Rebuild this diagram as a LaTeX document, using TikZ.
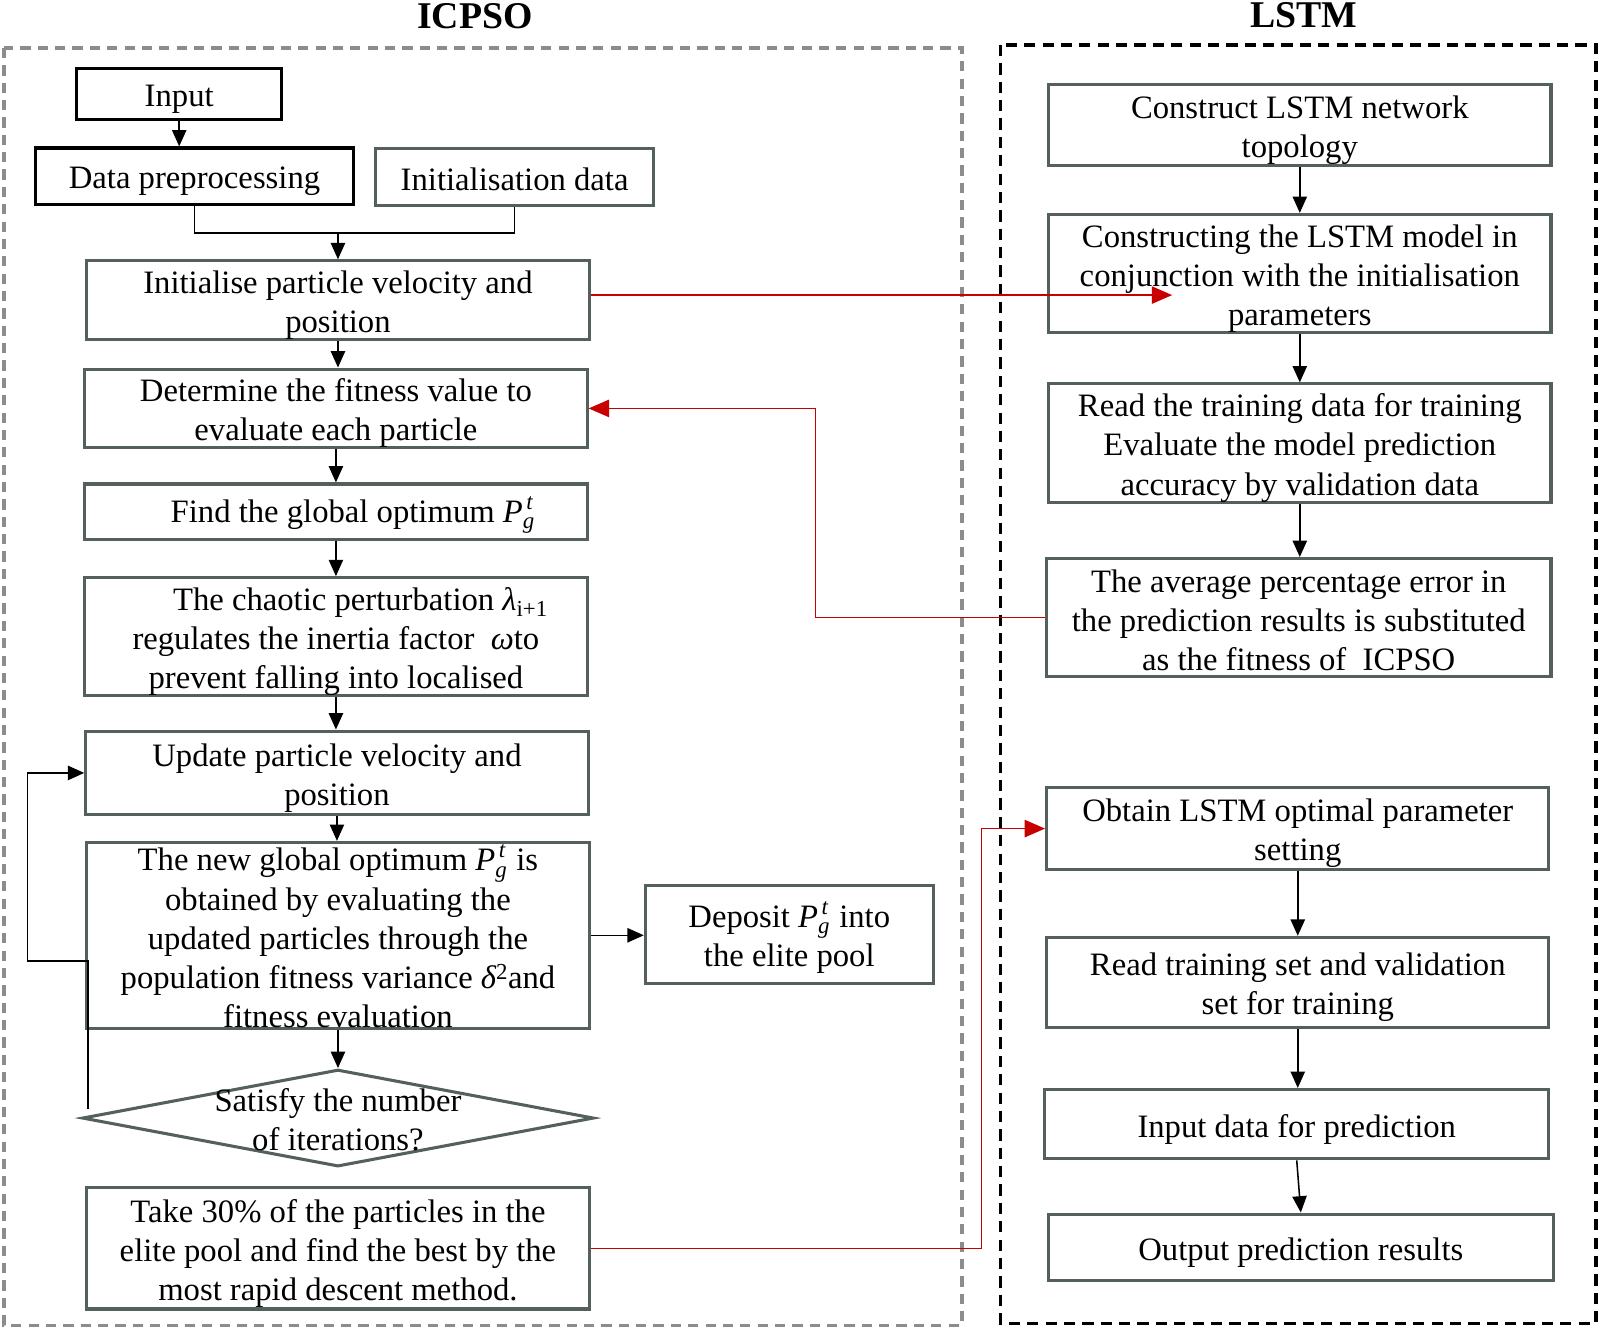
\documentclass[tikz,border=0pt]{standalone}
\usepackage{amsmath}
\usepackage{fontspec}
\setmainfont{Liberation Serif}
\usetikzlibrary{arrows.meta,shapes.geometric,calc}
\definecolor{boxc}{RGB}{84,96,94}
\definecolor{redc}{RGB}{200,0,0}
\definecolor{framec}{RGB}{140,140,140}
\newcommand{\Pgt}{$\textit{P}^{\,\textit{t}}_{\textit{g}}$\kern1pt}
\newcommand{\ts}{\rule{0pt}{32pt}}
\newcommand{\tss}{\rule{0pt}{27pt}}
\begin{document}
\begin{tikzpicture}[x=1pt,y=-1pt,
  every node/.style={font=\fontsize{32}{38.3}\selectfont},
  box/.style={draw=boxc, line width=3pt, rectangle, inner sep=0pt, align=center},
  bbox/.style={draw=black, line width=3.3pt, rectangle, inner sep=0pt, align=center},
  arr/.style={line width=1.5pt, -{Triangle[length=16pt,width=14pt]}},
  rarr/.style={draw=redc, line width=1.4pt, -{Triangle[length=20pt,width=17pt]}},
  ttl/.style={font=\fontsize{37}{40}\selectfont\bfseries}]
\useasboundingbox (0,0) rectangle (1568,1301);

% frames
\draw[framec, line width=3.5pt, dash pattern=on 10pt off 7pt] (4,47) rectangle (942,1298);
\draw[black, line width=3.5pt, dash pattern=on 11pt off 7pt] (980,44) rectangle (1563,1296);

% titles
\node[ttl] (tl) at (465,16) {ICPSO};
\node[ttl] (tr) at (1277,15) {LSTM};

% left column
\node[bbox, minimum width=201, minimum height=50] (inp) at (175.5,92) {\ts Input};
\node[bbox, minimum width=311, minimum height=55] (dp) at (190.5,172.5) {\ts Data preprocessing};
\node[box, minimum width=272, minimum height=56] (idata) at (504,173) {\tss Initialisation data};
\node[box, minimum width=492, minimum height=74] (init) at (331,294) {\ts Initialise particle velocity and\\position};
\node[box, minimum width=492, minimum height=76] (det) at (329,400) {\ts Determine the fitness value to\\evaluate each particle};
\node[box, minimum width=492, minimum height=54] (find) at (329,501) {\ts\hspace*{34pt}Find the global optimum \Pgt};
\node[box, minimum width=492, minimum height=115] (chao) at (329,623.5) {\ts\hspace*{48pt}The chaotic perturbation {\itshape λ}\textsubscript{i+1}\\regulates the inertia factor \ {\itshape ω}to\\prevent falling into localised};
\node[box, minimum width=492, minimum height=82] (upd) at (330,757) {\ts Update particle velocity and\\position};
\node[box, minimum width=492, minimum height=182] (ng) at (331,916) {};
\node[align=center] (ngt) at (331,917) {The new global optimum \Pgt\ is\\obtained by evaluating the\\updated particles through the\\population fitness variance {\itshape δ}\textsuperscript{2}and\\fitness evaluation};
\node[box, minimum width=282, minimum height=96] (dep) at (773,915) {\ts Deposit \Pgt\ into\\the elite pool};
\node[diamond, draw=boxc, line width=3pt, minimum width=501, minimum height=95, inner sep=0pt] (dia) at (331,1095) {};
\node[align=center] (diat) at (331,1097) {Satisfy the number\\of iterations?};
\node[box, minimum width=492, minimum height=119] (take) at (331,1222.5) {\ts Take 30\% of the particles in the\\elite pool and find the best by the\\most rapid descent method.};

% right column
\node[box, minimum width=492, minimum height=79] (r1) at (1273,122.5) {\ts Construct LSTM network\\topology};
\node[box, minimum width=492, minimum height=116] (r2) at (1273,268) {\ts Constructing the LSTM model in\\conjunction with the initialisation\\parameters};
\node[box, minimum width=492, minimum height=116] (r3) at (1273,434) {\ts Read the training data for training\\Evaluate the model prediction\\accuracy by validation data};
\node[box, minimum width=494, minimum height=116] (r4) at (1272,605) {\tss The average percentage error in\\the prediction results is substituted\\as the fitness of \ ICPSO};
\node[box, minimum width=492, minimum height=81] (r5) at (1271,811.5) {\ts Obtain LSTM optimal parameter\\setting};
\node[box, minimum width=492, minimum height=88] (r6) at (1271,962) {\ts Read training set and validation\\set for training};
\node[box, minimum width=494, minimum height=68] (r7) at (1270,1101) {\ts Input data for prediction};
\node[box, minimum width=494, minimum height=65] (r8) at (1274,1221.5) {\ts Output prediction results};

% left connectors
\draw[arr] (inp.south) -- (inp.south |- dp.north);
\coordinate (merge) at (331,228);
\draw[line width=1.5pt] (dp.south) |- (merge) -| (idata.south);
\draw[arr] (merge) -- (init.north);
\draw[arr] (init.south) -- (init.south |- det.north);
\draw[arr] (det.south) -- (det.south |- find.north);
\draw[arr] (find.south) -- (find.south |- chao.north);
\draw[arr] (chao.south) -- (chao.south |- upd.north);
\draw[arr] (upd.south) -- (upd.south |- ng.north);
\draw[arr] (ng.east) -- (ng.east -| dep.west);
\draw[arr] (ng.south) -- (ng.south |- dia.north);
\coordinate (lp) at (86,1086);
\coordinate (lc) at (27,941);
\draw[arr] (lp) |- (lc) |- (upd.west);

% right connectors
\draw[arr] (r1.south) -- (r1.south |- r2.north);
\draw[arr] (r2.south) -- (r2.south |- r3.north);
\draw[arr] (r3.south) -- (r3.south |- r4.north);
\draw[arr] (r5.south) -- (r5.south |- r6.north);
\draw[arr] (r6.south) -- (r6.south |- r7.north);
\draw[arr] (r7.south) -- (r8.north);

% red connectors
\coordinate (re1) at (1148,289);
\draw[rarr] (init.east |- re1) -- (re1);
\draw[rarr] (r4.west) -- ++(-225,0) |- (det.east);
\draw[rarr] (take.east) -- ++(383,0) |- (r5.west);
\end{tikzpicture}
\end{document}
